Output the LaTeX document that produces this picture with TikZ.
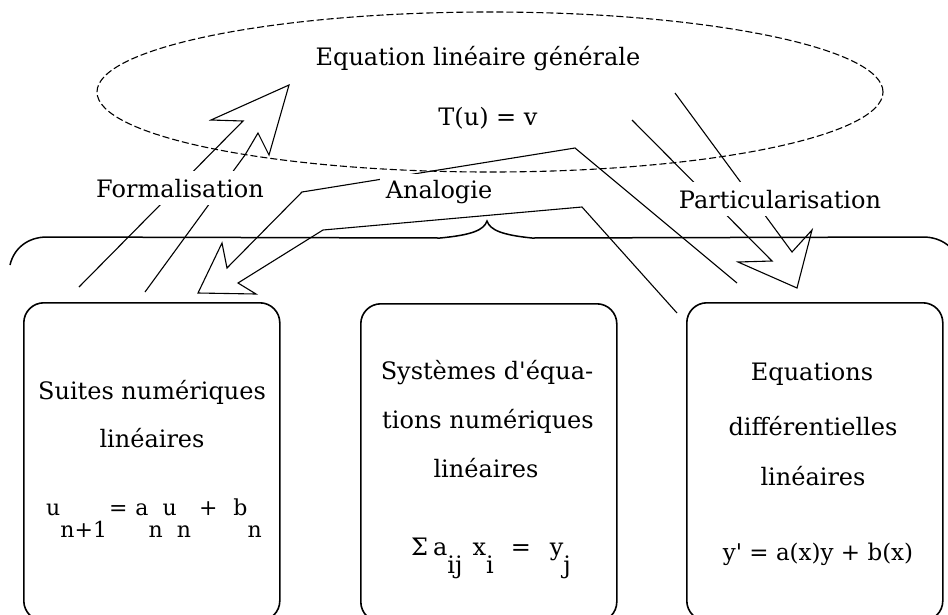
\documentclass[tikz,border=0pt]{standalone}
\usepackage{fontspec}
\setmainfont{DejaVu Serif}
\usetikzlibrary{shapes.geometric}
\newcommand\lowsubA[1]{\raisebox{-22pt}{#1}}
\newcommand\lowsubB[1]{\raisebox{-18pt}{#1}}
\begin{document}
\begin{tikzpicture}[x=1pt,y=-1pt,
  lbl/.style={font=\fontsize{24}{29}\selectfont, inner sep=0pt, anchor=base},
  fml/.style={lbl, font=\fontsize{22}{27}\selectfont},
  cutlbl/.style={lbl, fill=white, inner sep=8pt},
  arr/.style={line width=1.1pt, line join=miter},
  boxshape/.style={draw, line width=1.6pt, rounded corners=20pt, minimum width=256pt, minimum height=318pt, anchor=north west, inner sep=0pt},
  bracepath/.style={line width=1.5pt},
  genell/.style={draw, ellipse, line width=1.1pt, dash pattern=on 7pt off 3pt, minimum width=786pt, minimum height=160pt, inner sep=0pt}]
\clip (0,0) rectangle (948,614);
\fill[white] (0,0) rectangle (948,614);

% general equation ellipse
\node[genell] (gen) at (490,92) {};

% brace over the three boxes
\draw[bracepath] (10,265) .. controls (14,248) and (28,237) .. (47,237)
  -- (440,238) .. controls (472,235) and (484,230) .. (487,221)
  .. controls (490,230) and (502,235) .. (532,238)
  -- (923,237) .. controls (942,237) and (956,248) .. (960,265);

% boxes
\node[boxshape] (b1) at (23,302) {};
\node[boxshape] (b2) at (360,303) {};
\node[boxshape] (b3) at (686,302) {};

% Formalisation arrow
\draw[arr] (79,287) -- (243,121) -- (211,120) -- (289,85) -- (269,155)
  -- (258,133) -- (245,155) -- (145,292);

% Analogie arrow
\draw[arr] (737,283) -- (575,148) -- (302,192) -- (227,268) -- (222,243)
  -- (198,293) -- (256,294) -- (238,283) -- (323,230) -- (582,207) -- (677,313);

% Particularisation arrow
\draw[arr] (632,120) -- (772,261) -- (738,262) -- (797,288) -- (812,230)
  -- (792,252) -- (675,93);

% ellipse texts
\node[lbl] (t1) at (478,65) {Equation linéaire générale};
\node[lbl] (t2) at (488,125) {T(u) = v};

% arrow labels
\node[cutlbl] (lf) at (180,197) {Formalisation};
\node[cutlbl, inner sep=6pt] (la) at (439,198) {Analogie};
\node[cutlbl] (lp) at (780,208) {Particularisation};

% box 1
\node[lbl] (b1a) at (152,399) {Suites numériques};
\node[lbl] (b1b) at (152,447) {linéaires};
\node[fml] (b1c) at (154,515) {u\lowsubA{n+1}\hspace{2pt}=\hspace{8pt}a\lowsubA{n}u\lowsubA{n}\hspace{8pt}+\hspace{16pt}b\lowsubA{n}};

% box 2
\node[lbl] (b2a) at (487,379) {Systèmes d\textquotesingle équa-};
\node[lbl] (b2b) at (488,428) {tions numériques};
\node[lbl] (b2c) at (486,477) {linéaires};
\node[lbl] (b2d) at (491,555) {Σ\hspace{5pt}a\lowsubB{ij}\hspace{10pt}x\lowsubB{i}\hspace{17pt}=\hspace{19pt}y\lowsubB{j}};

% box 3
\node[lbl] (b3a) at (812,380) {Equations};
\node[lbl] (b3b) at (813,435) {différentielles};
\node[lbl] (b3c) at (813,485) {linéaires};
\node[lbl, font=\fontsize{23}{28}\selectfont] (b3d) at (818,560) {y\textquotesingle{} = a(x)y + b(x)};
\end{tikzpicture}
\end{document}
